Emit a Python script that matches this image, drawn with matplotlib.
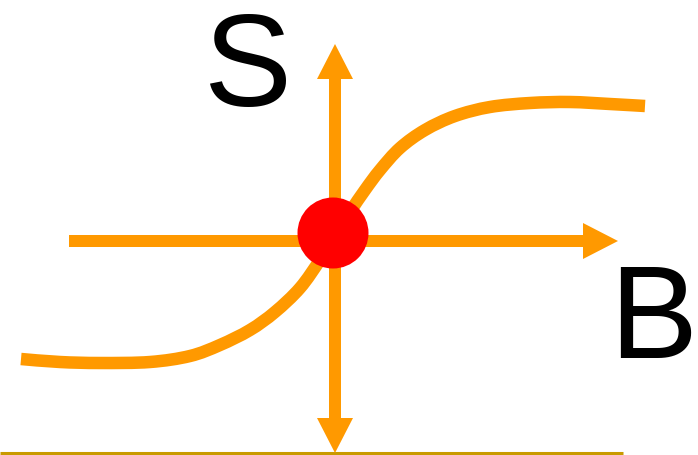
import matplotlib
matplotlib.use("Agg")
import matplotlib.pyplot as plt
from matplotlib.patches import FancyArrow, Circle, PathPatch
from matplotlib.path import Path

ORANGE = "#FF9900"
RED = "#FF0000"
GOLD = "#C99A00"

# curve S(B) (pixel coords, y grows downwards)
curve_x = [21, 60, 100, 150, 190, 220, 250, 275, 300, 320, 335, 350, 365,
           380, 400, 425, 455, 490, 530, 570, 610, 645]
curve_y = [359, 362, 363, 362, 356, 345, 330, 312, 288, 260, 236, 212, 190,
           170, 148, 130, 116, 107, 103, 102, 104, 106]

# axes: origin and extents
origin = (335, 241)
b_axis = [69, 618]      # horizontal arrow start / tip
s_axis = [453, 44]      # vertical arrow start (bottom tip) / top tip
labels = ["S", "B"]
label_pos = [(248, 106), (653, 358)]
base_line = [0, 623]

fig = plt.figure(figsize=(6.98, 4.55), dpi=100)
ax = fig.add_axes([0, 0, 1, 1])
ax.set_xlim(0, 698)
ax.set_ylim(455, 0)
ax.axis("off")

# bottom rule
ax.plot(base_line, [453, 453], color=GOLD, linewidth=2.2, solid_capstyle="butt")

# B axis
ax.add_patch(FancyArrow(b_axis[0], origin[1], b_axis[1] - b_axis[0], 0,
                        width=12, head_width=36, head_length=35,
                        length_includes_head=True, color=ORANGE, lw=0, zorder=2))
# S axis (double headed: up and down from the centre)
mid = (s_axis[0] + s_axis[1]) / 2
for end in s_axis:
    ax.add_patch(FancyArrow(origin[0], mid, 0, end - mid,
                            width=12, head_width=36, head_length=35,
                            length_includes_head=True, color=ORANGE, lw=0, zorder=2))

# curve as smooth bezier through the read points (catmull-rom handles)
pts = list(zip(curve_x, curve_y))
verts = [pts[0]]
codes = [Path.MOVETO]
for i in range(len(pts) - 1):
    p0 = pts[i - 1] if i > 0 else pts[i]
    p1, p2 = pts[i], pts[i + 1]
    p3 = pts[i + 2] if i + 2 < len(pts) else pts[i + 1]
    c1 = (p1[0] + (p2[0] - p0[0]) / 6, p1[1] + (p2[1] - p0[1]) / 6)
    c2 = (p2[0] - (p3[0] - p1[0]) / 6, p2[1] - (p3[1] - p1[1]) / 6)
    verts += [c1, c2, p2]
    codes += [Path.CURVE4] * 3
ax.add_patch(PathPatch(Path(verts, codes), facecolor="none", edgecolor=ORANGE,
                       linewidth=9, capstyle="butt", zorder=3))

# red point at origin
ax.add_patch(Circle((333, 233), 35.5, color=RED, lw=0, zorder=4))

for txt, (x, y) in zip(labels, label_pos):
    ax.text(x, y, txt, ha="center", va="baseline", fontsize=95,
            family="Liberation Sans", color="black")

fig.savefig("out.png", dpi=100)
